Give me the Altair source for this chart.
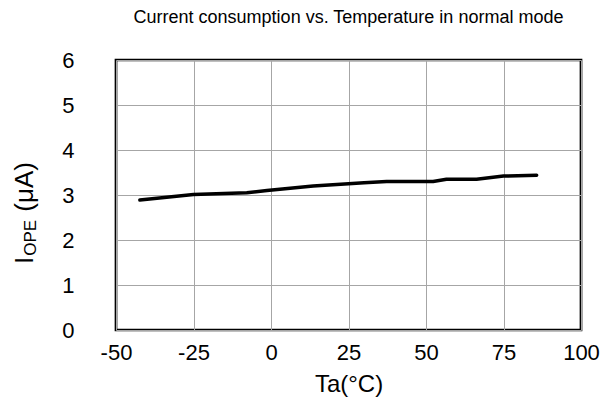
import altair as alt
import pandas as pd

# Data
temps = [-42.3, -25, -7.8, -1.3, 13.6, 25, 30, 37.3, 52.3, 56.6, 66.3, 75, 85.7]
iope = [2.89, 3.01, 3.05, 3.10, 3.20, 3.25, 3.27, 3.30, 3.30, 3.35, 3.35, 3.42, 3.44]

x_ticks = [-50, -25, 0, 25, 50, 75, 100]
y_ticks = [0, 1, 2, 3, 4, 5, 6]

title_text = "Current consumption vs. Temperature in normal mode"
x_title = "Ta(°C)"
y_title_parts = ["I", "OPE", "(μA)"]

df = pd.DataFrame({"T": temps, "I": iope})

W, H = 465, 270
FONT = "Liberation Sans"

line = alt.Chart(df).mark_line(color="black", strokeWidth=3.5, strokeCap="round",
                               strokeJoin="round").encode(
    x=alt.X("T:Q", scale=alt.Scale(domain=[-50, 100], nice=False),
            axis=alt.Axis(values=x_ticks, title=x_title, grid=True, gridColor="#a6a6a6",
                          gridWidth=1, domain=False, ticks=False, labelFontSize=22,
                          labelFont=FONT, labelColor="black", labelPadding=12,
                          labelExpr="'' + datum.value",
                          titleFont=FONT, titleFontSize=24, titleFontWeight="normal",
                          titleColor="black", titlePadding=9, labelFlush=False)),
    y=alt.Y("I:Q", scale=alt.Scale(domain=[0, 6], nice=False),
            axis=alt.Axis(values=y_ticks, title=None, grid=True, gridColor="#a6a6a6",
                          gridWidth=1, domain=False, ticks=False, labelFontSize=22,
                          labelFont=FONT, labelColor="black", labelPadding=42,
                          labelFlush=False)),
)

# y-axis title with subscript, built from text pieces
main_fs, sub_fs = 26, 17
widths = [0.278 * main_fs + 1, 2.112 * sub_fs + 0.278 * main_fs + 1, 0]
sizes = [main_fs, sub_fs, main_fs]
shifts = [0, 3, 0]
start_y = 204
layers = [line]
cur = start_y
for part, w, fs, sh in zip(y_title_parts, widths, sizes, shifts):
    t = alt.Chart(pd.DataFrame({"t": [part]})).mark_text(
        angle=270, align="left", baseline="alphabetic", font=FONT, fontSize=fs, color="black"
    ).encode(text="t:N", x=alt.value(-83 + sh), y=alt.value(cur))
    layers.append(t)
    cur -= w

chart = alt.layer(*layers).properties(
    width=W, height=H,
    title=alt.TitleParams(title_text, font=FONT, fontSize=18, fontWeight="normal",
                          color="black", anchor="middle", offset=22),
    autosize=alt.AutoSizeParams(type="none"),
    padding={"left": 108, "top": 52, "right": 24, "bottom": 69},
).configure_view(stroke="black", strokeWidth=2.7)

chart.save("out.html", embed_options={"renderer": "svg", "actions": False})
